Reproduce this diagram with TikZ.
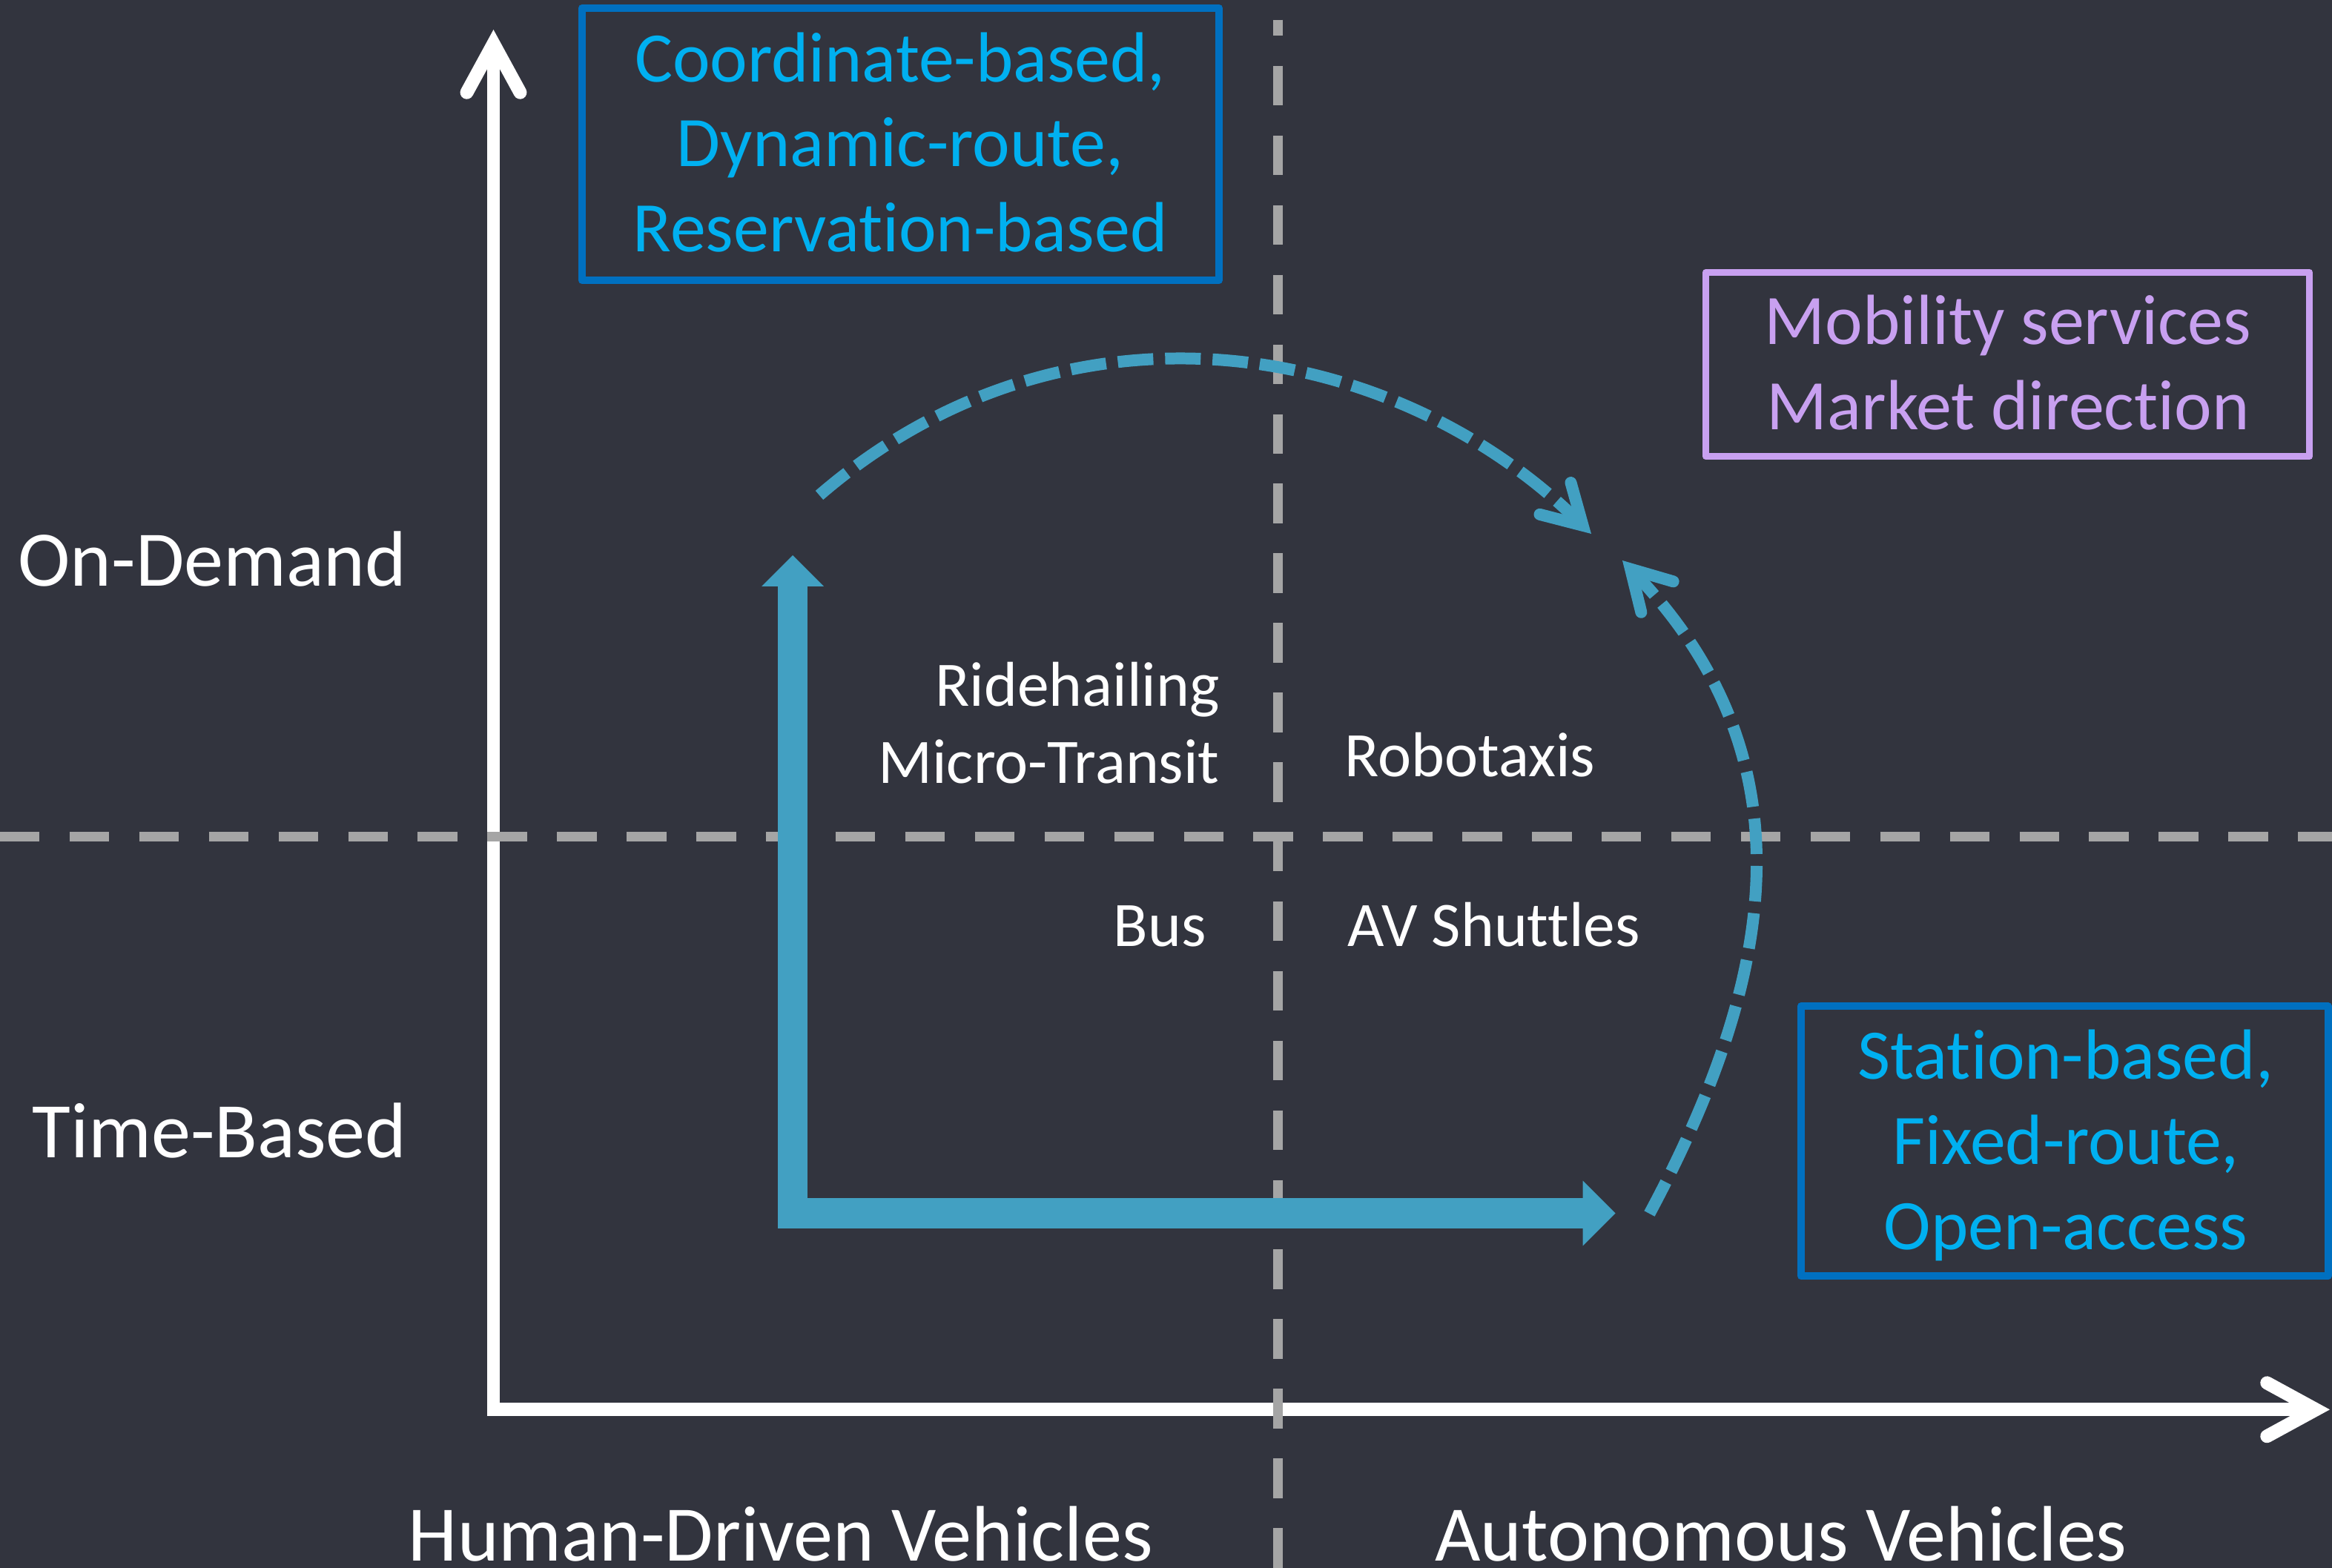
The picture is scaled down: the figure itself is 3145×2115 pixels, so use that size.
\documentclass[tikz,border=0pt]{standalone}
\usepackage{fontspec}
\setmainfont{Carlito}[Ligatures=NoCommon]
\usetikzlibrary{arrows.meta}
\definecolor{bgc}{RGB}{50,52,62}
\definecolor{gridc}{RGB}{165,165,165}
\definecolor{tealc}{RGB}{66,160,194}
\definecolor{boxblue}{RGB}{0,112,192}
\definecolor{txtblue}{RGB}{0,176,240}
\definecolor{lav}{RGB}{200,160,240}
\begin{document}
\begin{tikzpicture}[x=0.005cm, y=-0.005cm,
  axisline/.style={draw=white, line width=0.09cm, line join=miter,
    {Straight Barb[length=0.33cm,width=0.36cm,line cap=round,line join=miter]}-{Straight Barb[length=0.33cm,width=0.36cm,line cap=round,line join=miter]}},
  gridline/.style={draw=gridc, line width=0.067cm, dash pattern=on 0.2675cm off 0.2025cm},
  bigarrow/.style={draw=tealc, line width=0.205cm, line join=miter,
    {Triangle[length=0.21cm,width=0.42cm,line width=0pt]}-{Triangle[length=0.22cm,width=0.44cm,line width=0pt]}},
  dasharc/.style={draw=tealc, line width=0.08cm, dash pattern=on 0.24cm off 0.08cm,
    -{Straight Barb[length=0.26cm,width=0.30cm,line cap=round,line join=miter]}},
  bluebox/.style={draw=boxblue, line width=0.05cm, line join=round, inner sep=0pt, outer sep=0pt},
  lavbox/.style={draw=lav, line width=0.045cm, line join=round, inner sep=0pt, outer sep=0pt},
  big/.style={text=white, font=\fontsize{15.12pt}{18pt}\selectfont, inner sep=0pt},
  small/.style={text=white, font=\fontsize{12.17pt}{14.5pt}\selectfont, inner sep=0pt},
  btxt/.style={text=txtblue, font=\fontsize{13.65pt}{16.3pt}\selectfont, inner sep=0pt, anchor=base},
  ltxt/.style={text=lav, font=\fontsize{13.65pt}{16.3pt}\selectfont, inner sep=0pt, anchor=base}
]
\useasboundingbox (0,0) rectangle (3145,2115);
\fill[bgc] (0,0) rectangle (3145,2115);

% axes
\coordinate (axtop) at (665.5,40);
\coordinate (axright) at (3142,1901.3);
\draw[axisline] (axtop) |- (axright);

% grid dashed lines
\coordinate (hl) at (0,1128.5);
\coordinate (hr) at (3145,1128.5);
\coordinate (vt) at (1723.5,26.7);
\coordinate (vb) at (1723.5,2115);
\draw[gridline] (hl) -- (hr);
\draw[gridline, dash phase=0.1585cm] (vt) -- (vb);

% thick L arrow
\coordinate (Ltop) at (1069,749);
\coordinate (Lright) at (2178.6,1636.5);
\draw[bigarrow] (Ltop) |- (Lright);

% dashed arcs
\coordinate (a1s) at (1105,668);
\coordinate (a1e) at (2146,720);
\draw[dasharc] (a1s) .. controls (1432.6,385) and (1872.6,452) .. (a1e);
\coordinate (a2s) at (2224.5,1637);
\coordinate (a2e) at (2188,756);
\draw[dasharc] (a2s) .. controls (2404,1302) and (2437,1016) .. (a2e);

% boxes
\node[bluebox, minimum width=4.299cm, minimum height=1.84cm] (boxTL) at (1214.4,194.5) {};
\node[lavbox, minimum width=4.075cm, minimum height=1.245cm] (boxP) at (2707.5,491.5) {};
\node[bluebox, minimum width=3.5575cm, minimum height=1.8225cm] (boxBR) at (2784.25,1539.25) {};

\node[btxt] (tl1) at (1214,110) {Coordinate-based,};
\node[btxt] (tl2) at (1214,224.5) {Dynamic-route,};
\node[btxt] (tl3) at (1214,339) {Reservation-based};

\node[ltxt] (p1) at (2708,464.5) {Mobility services};
\node[ltxt] (p2) at (2708,579) {Market direction};

\node[btxt] (br1) at (2786,1455.7) {Station-based,};
\node[btxt] (br2) at (2786,1570.5) {Fixed-route,};
\node[btxt] (br3) at (2786,1685) {Open-access};

% axis labels
\node[big, anchor=base east] (ondemand) at (550,790.8) {On-Demand};
\node[big, anchor=base east] (timebased) at (550,1561.6) {Time-Based};
\node[big, anchor=base west] (human) at (549.5,2105) {Human-Driven Vehicles};
\node[big, anchor=base west] (auton) at (1934,2105) {Autonomous Vehicles};

% quadrant labels
\node[small, anchor=base east] (ride) at (1646,952) {Ridehailing};
\node[small, anchor=base east] (micro) at (1646,1056) {Micro-Transit};
\node[small, anchor=base west] (robo) at (1812.5,1047) {Robotaxis};
\node[small, anchor=base east] (bus) at (1628,1276) {Bus};
\node[small, anchor=base west] (avs) at (1816,1276) {AV Shuttles};
\end{tikzpicture}
\end{document}
